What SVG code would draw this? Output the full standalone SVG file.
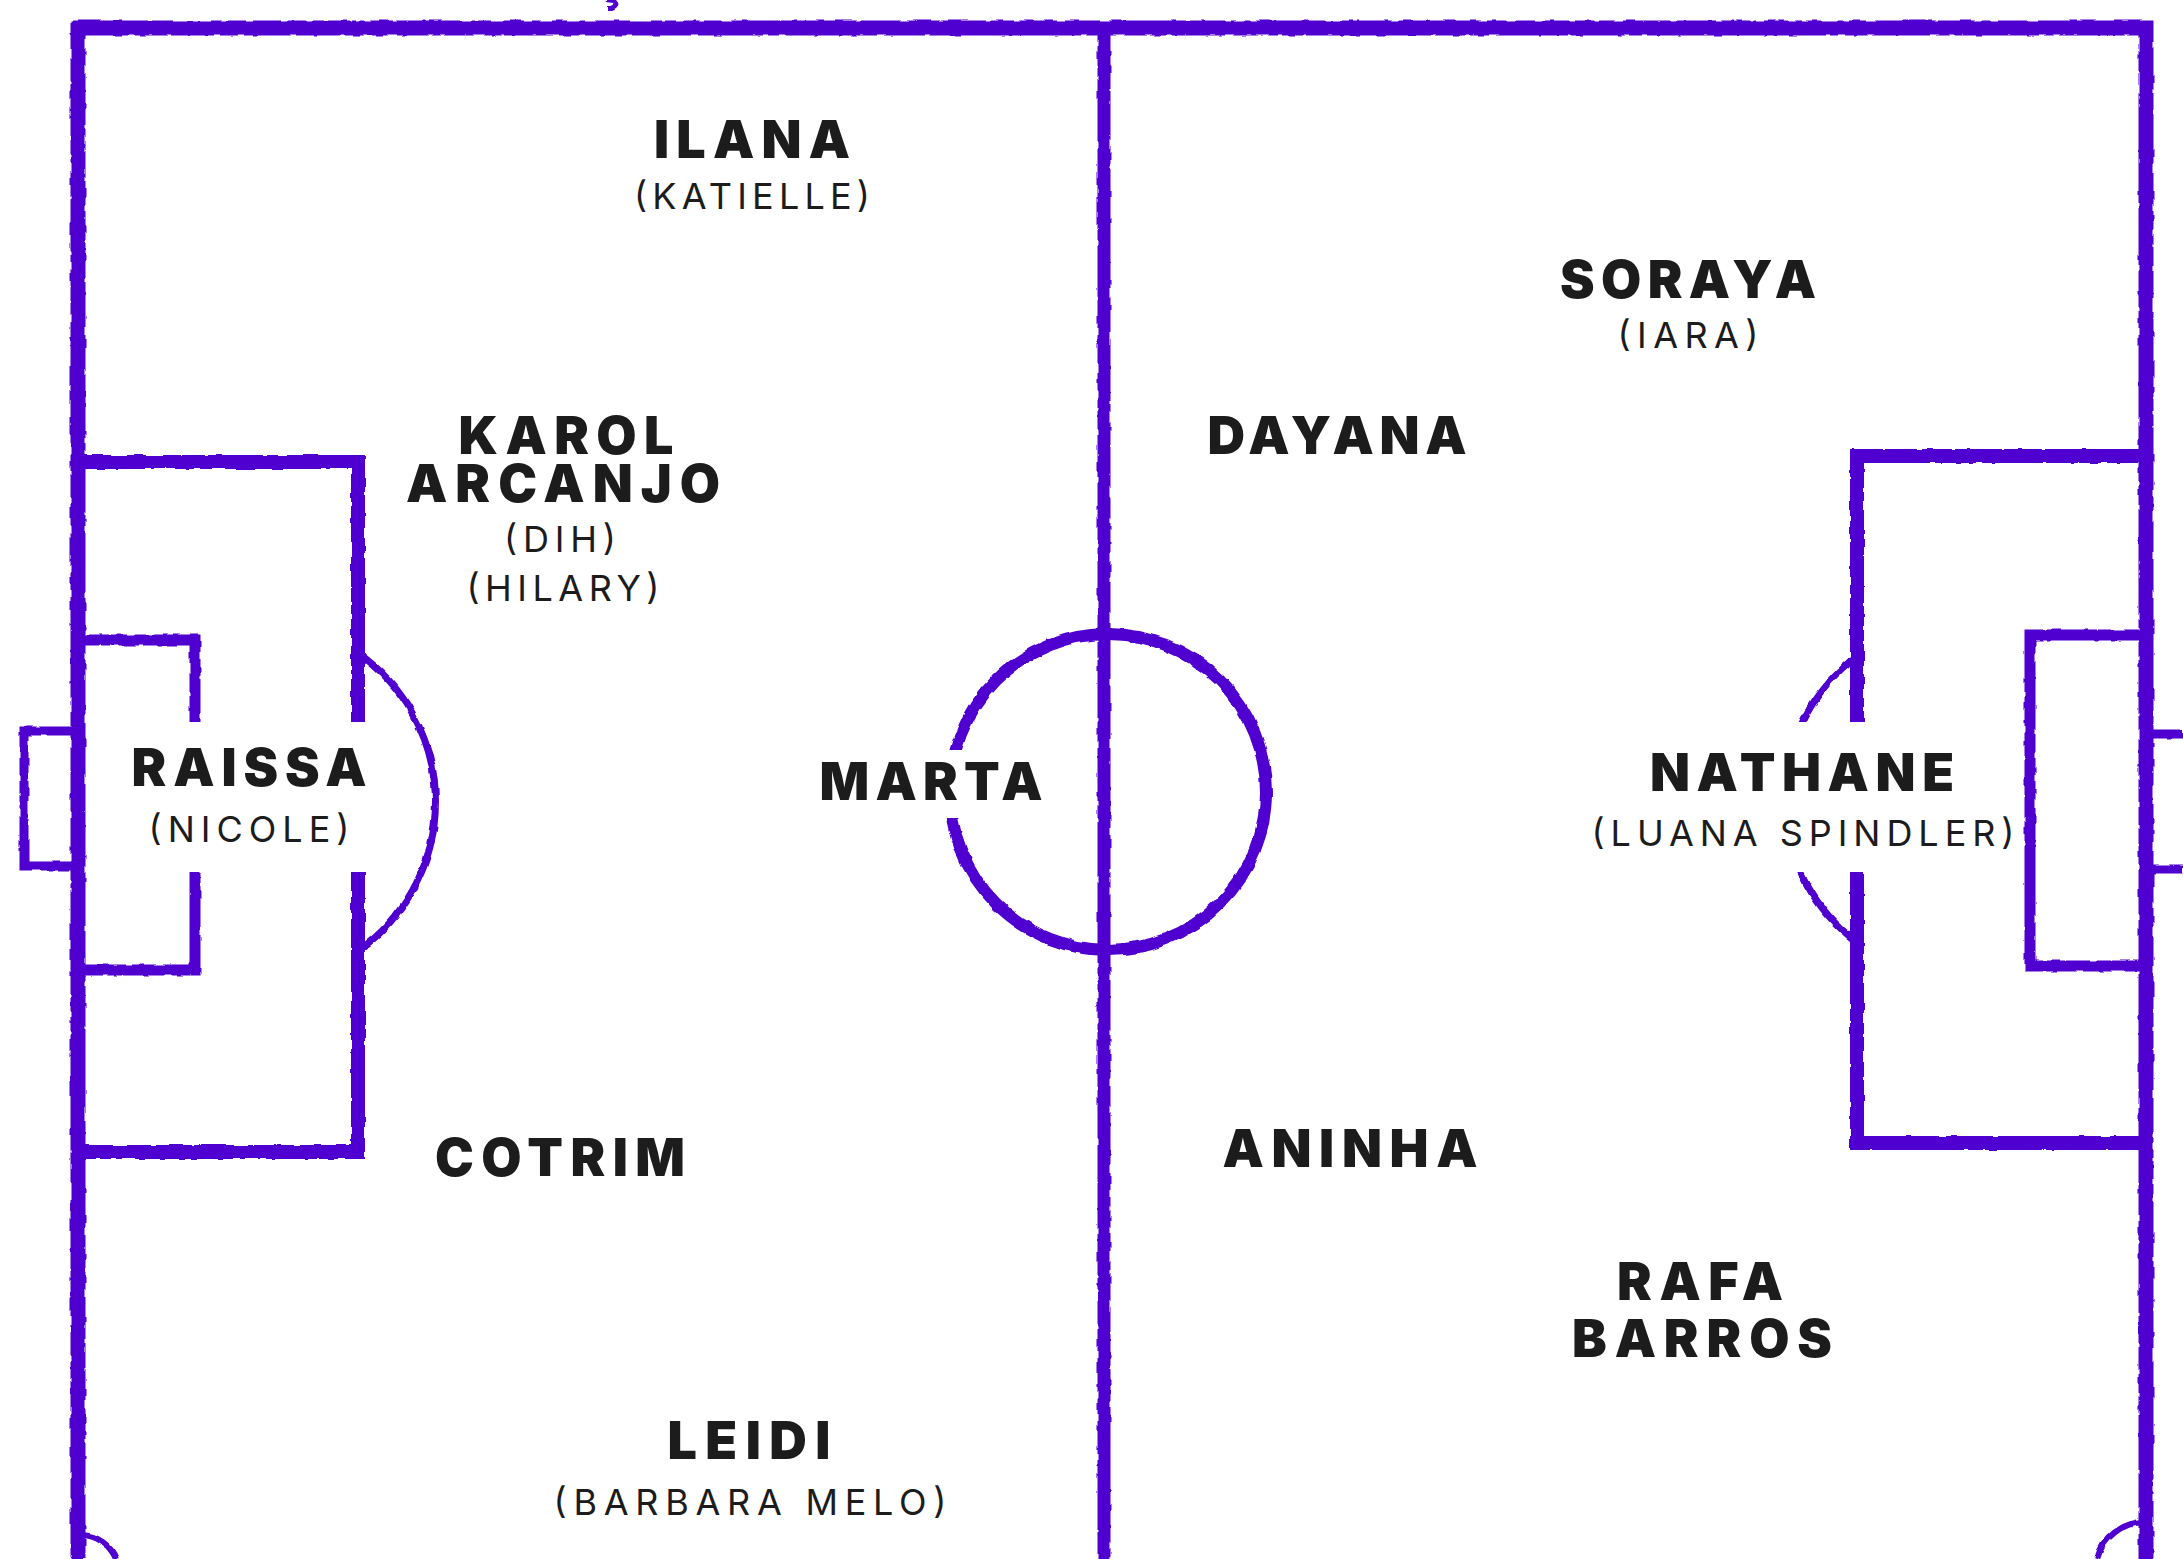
<svg xmlns="http://www.w3.org/2000/svg" width="2183" height="1559" viewBox="0 0 2183 1559">
  <defs>
    <filter id="rough" x="-5%" y="-5%" width="110%" height="110%">
      <feTurbulence type="fractalNoise" baseFrequency="0.08" numOctaves="2" seed="3" result="n"/>
      <feDisplacementMap in="SourceGraphic" in2="n" scale="4" xChannelSelector="R" yChannelSelector="G"/>
    </filter>
    <style>
      .ln { fill: none; stroke: #5000d0; stroke-linejoin: miter; }
      .name { font-family: Inter, "Liberation Sans", sans-serif; font-weight: 900; font-size: 52px; fill: #1c1c1c; text-anchor: middle; }
      .sub { font-family: Inter, "Liberation Sans", sans-serif; font-weight: 400; font-size: 36px; fill: #1c1c1c; text-anchor: middle; }
      .knock { fill: #ffffff; }
    </style>
  </defs>
  <rect x="0" y="0" width="2183" height="1559" fill="#ffffff"/>

  <g id="pitch" filter="url(#rough)">
    <path class="ln" stroke-width="15" d="M78,1559 L78,28 L2146,28 L2146,1559"/>
    <path class="ln" stroke-width="4" d="M607,1 L615,2 Q619,6 612,9 L608,9"/>
    <path class="ln" stroke-width="13" d="M1104,28 L1104,1559"/>
    <circle class="ln" stroke-width="12" cx="1108" cy="792" r="158"/>
    <!-- left side -->
    <path class="ln" stroke-width="14" d="M78,462 L358,462 L358,1152 L78,1152"/>
    <path class="ln" stroke-width="11" d="M78,640 L195,640 L195,970 L78,970"/>
    <path class="ln" stroke-width="9" d="M78,731 L24,731 L24,866 L78,866"/>
    <path class="ln" stroke-width="7" d="M358,653 A182,182 0 0 1 358,951"/>
    <path class="ln" stroke-width="6" d="M82,1535 A38,38 0 0 1 116,1559"/>
    <!-- right side -->
    <path class="ln" stroke-width="14" d="M2146,456 L1857,456 L1857,1143 L2146,1143"/>
    <path class="ln" stroke-width="11" d="M2146,635 L2030,635 L2030,966 L2146,966"/>
    <path class="ln" stroke-width="9" d="M2146,734 L2183,734 M2146,869 L2183,869"/>
    <path class="ln" stroke-width="7" d="M1857,656 A178,178 0 0 0 1857,942"/>
    <path class="ln" stroke-width="6" d="M2145,1522 A50,50 0 0 0 2097,1559"/>
  </g>

  <g id="connectors"></g>

  <g id="ilana">
    <text class="name" x="752" y="158" textLength="196" lengthAdjust="spacing">ILANA</text>
    <text class="sub" x="752" y="209" textLength="236" lengthAdjust="spacing">(KATIELLE)</text>
  </g>
  <g id="karol-arcanjo">
    <text class="name" x="566" y="454" textLength="215" lengthAdjust="spacing">KAROL</text>
    <text class="name" x="563" y="502" textLength="314" lengthAdjust="spacing">ARCANJO</text>
    <text class="sub" x="560" y="552" textLength="112" lengthAdjust="spacing">(DIH)</text>
    <text class="sub" x="563" y="601" textLength="193" lengthAdjust="spacing">(HILARY)</text>
  </g>
  <g id="soraya">
    <text class="name" x="1688" y="298" textLength="256" lengthAdjust="spacing">SORAYA</text>
    <text class="sub" x="1688" y="348" textLength="141" lengthAdjust="spacing">(IARA)</text>
  </g>
  <g id="dayana">
    <text class="name" x="1337" y="454" textLength="259" lengthAdjust="spacing">DAYANA</text>
  </g>
  <g id="raissa">
    <rect class="knock" x="122" y="722" width="250" height="150"/>
    <text class="name" x="249" y="786" textLength="235" lengthAdjust="spacing">RAISSA</text>
    <text class="sub" x="249" y="842" textLength="201" lengthAdjust="spacing">(NICOLE)</text>
  </g>
  <g id="marta">
    <rect class="knock" x="812" y="750" width="238" height="68"/>
    <text class="name" x="931" y="800" textLength="223" lengthAdjust="spacing">MARTA</text>
  </g>
  <g id="cotrim">
    <text class="name" x="560" y="1176" textLength="250" lengthAdjust="spacing">COTRIM</text>
  </g>
  <g id="leidi">
    <text class="name" x="749" y="1459" textLength="163" lengthAdjust="spacing">LEIDI</text>
    <text class="sub" x="750" y="1515" textLength="393" lengthAdjust="spacing">(BARBARA MELO)</text>
  </g>
  <g id="nathane">
    <rect class="knock" x="1585" y="722" width="437" height="150"/>
    <text class="name" x="1802" y="791" textLength="304" lengthAdjust="spacing">NATHANE</text>
    <text class="sub" x="1803" y="846" textLength="423" lengthAdjust="spacing">(LUANA SPINDLER)</text>
  </g>
  <g id="aninha">
    <text class="name" x="1350" y="1167" textLength="255" lengthAdjust="spacing">ANINHA</text>
  </g>
  <g id="rafa-barros">
    <text class="name" x="1700" y="1300" textLength="166" lengthAdjust="spacing">RAFA</text>
    <text class="name" x="1702" y="1357" textLength="260" lengthAdjust="spacing">BARROS</text>
  </g>
</svg>
